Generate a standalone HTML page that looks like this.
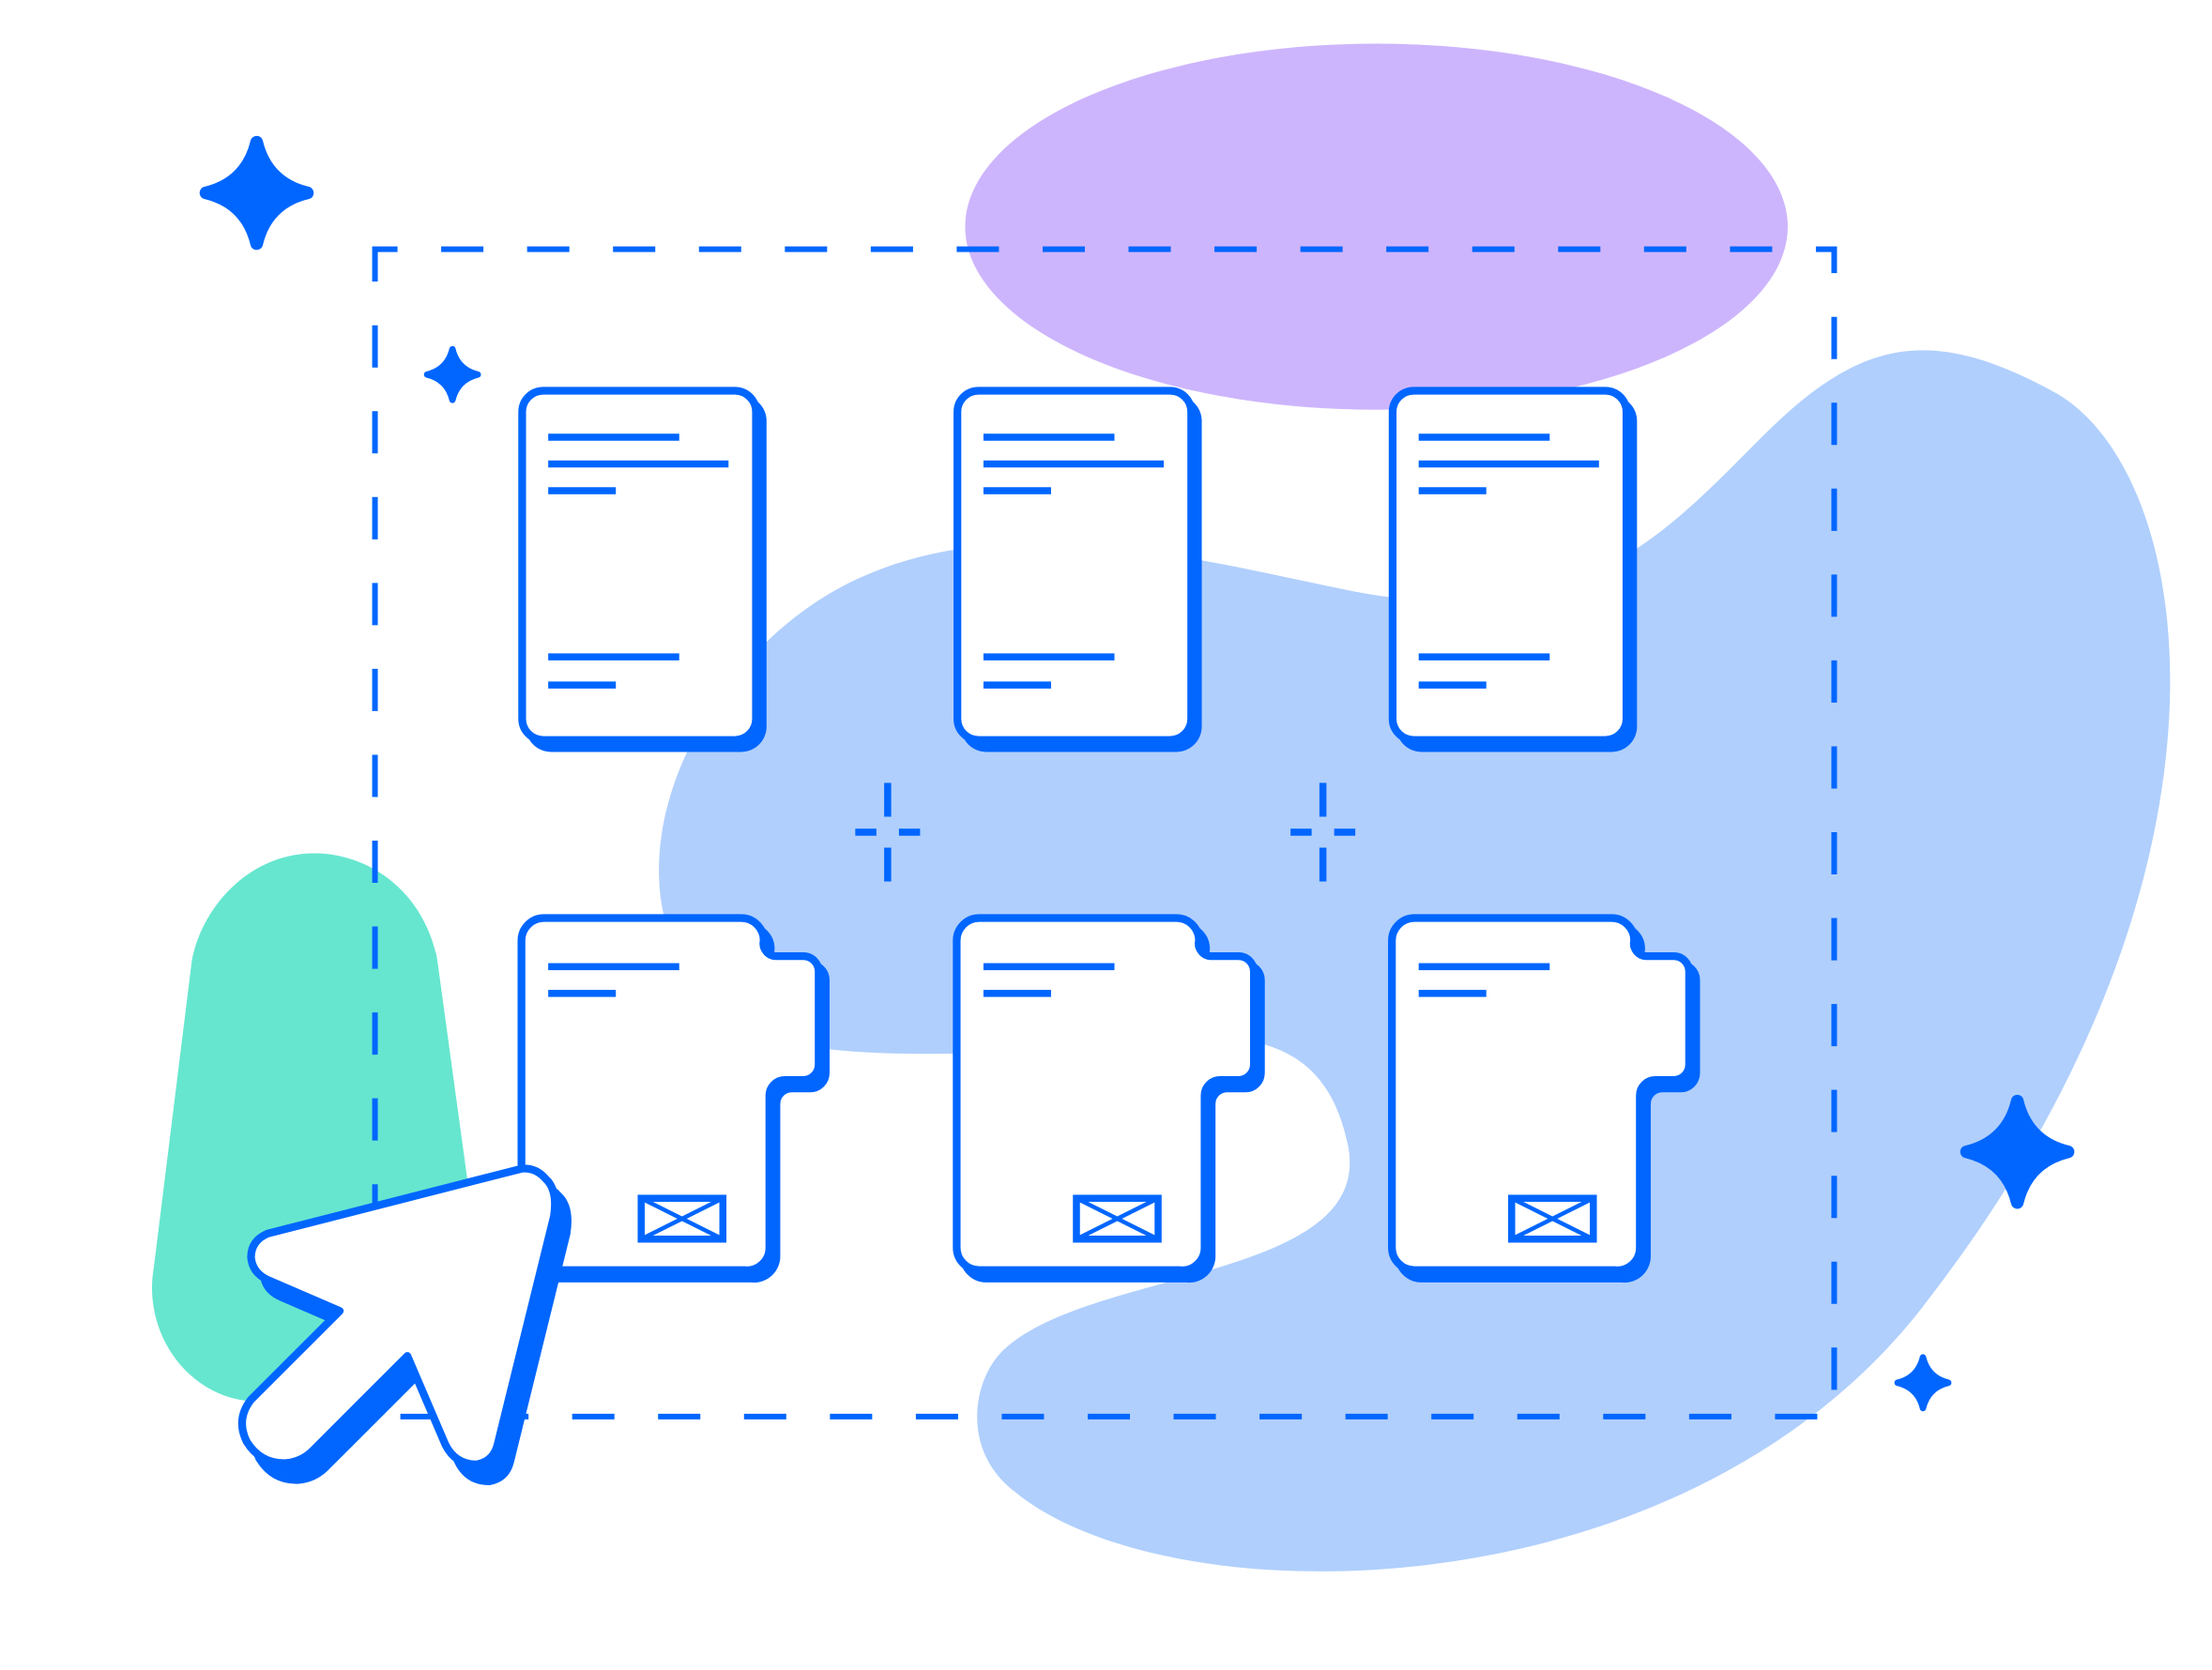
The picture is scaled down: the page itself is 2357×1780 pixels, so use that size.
<!DOCTYPE html>
<html><head><meta charset="utf-8"><style>html,body{margin:0;padding:0;background:#fff}svg{display:block}</style></head>
<body>
<svg width="2357" height="1780" viewBox="0 0 1568 1186" xmlns="http://www.w3.org/2000/svg">
<defs>
<g id="star"><path d="M0,-36 Q7,-7 36,0 Q7,7 0,36 Q-7,7 -36,0 Q-7,-7 0,-36Z" fill="#0066ff" stroke="#0066ff" stroke-width="9" stroke-linejoin="round"/></g>
<g id="doc">
<rect x="5" y="6" width="171" height="253" rx="18" fill="#0066ff"/>
<rect x="2.5" y="2.5" width="166" height="248" rx="15" fill="#fff" stroke="#0066ff" stroke-width="5.5"/>
<g fill="#0066ff"><rect x="21" y="33" width="93" height="5"/><rect x="21" y="52" width="128" height="5"/><rect x="21" y="71" width="48" height="5"/><rect x="21" y="189" width="93" height="5"/><rect x="21" y="209" width="48" height="5"/></g>
</g>
<path id="fp" d="M18,2 H158 A16,16 0 0 1 174,18 A9,9 0 0 0 183,29 H202 A11,11 0 0 1 213,40 V106 A11,11 0 0 1 202,117 H189 A11,11 0 0 0 178,128 V236 A16,16 0 0 1 160,252 H18 A16,16 0 0 1 2,236 V18 A16,16 0 0 1 18,2Z"/>
<g id="folder">
<use href="#fp" transform="translate(5,6)" fill="#0066ff" stroke="#0066ff" stroke-width="5.5"/>
<use href="#fp" fill="#fff" stroke="#0066ff" stroke-width="5.5"/>
<g fill="#0066ff"><rect x="21" y="34" width="93" height="5"/><rect x="21" y="53" width="48" height="5"/></g>
<g stroke="#0066ff" fill="none"><rect x="87" y="201" width="58" height="29" stroke-width="5"/><path d="M87,201 L145,230 M145,201 L87,230" stroke-width="3"/></g>
</g>
<g id="cross" fill="#0066ff"><rect x="-2.5" y="-35" width="5" height="24"/><rect x="-2.5" y="11" width="5" height="24"/><rect x="-23" y="-2.5" width="15" height="5"/><rect x="8" y="-2.5" width="15" height="5"/></g>
</defs>
<ellipse cx="976" cy="161" rx="292" ry="130" fill="#cdb5fd"/>
<path d="M470,650 C450,560 520,450 610,410 C720,360 860,400 960,420 C1120,450 1180,380 1250,310 C1320,240 1370,230 1460,280 C1560,340 1600,620 1370,920 C1200,1150 830,1150 720,1060 C680,1030 690,980 710,960 C770,900 980,910 955,810 C930,700 820,745 690,748 C560,751 480,740 470,650Z" fill="#b0cffd"/>
<path d="M222,606 C258,606 298,630 309,680 L335,870 L175,995 C130,990 100,945 108,900 L135,682 C142,645 175,606 222,606Z" fill="#66e6cf"/>
<rect x="265" y="177" width="1036" height="829" fill="none" stroke="#0066ff" stroke-width="4" stroke-dasharray="30 31" stroke-dashoffset="14"/>
<use href="#star" transform="translate(181,137)"/>
<use href="#star" transform="translate(1431,818)"/>
<use href="#star" transform="translate(320,266) scale(0.5)"/>
<use href="#star" transform="translate(1364,982) scale(0.5)"/>
<use href="#doc" transform="translate(367,275)"/>
<use href="#doc" transform="translate(676,275)"/>
<use href="#doc" transform="translate(985,275)"/>
<use href="#folder" transform="translate(367,650)"/>
<use href="#folder" transform="translate(676,650)"/>
<use href="#folder" transform="translate(985,650)"/>
<use href="#cross" transform="translate(629,591)"/>
<use href="#cross" transform="translate(938,591)"/>
<defs>
<path id="cur" d="M369,830 L189,876 Q177,881 177,893 Q178,904 189,909 L240,931 L177,994 Q166,1008 174,1024 Q184,1040 202,1039 Q213,1038 221,1030 L288,963 L315,1026 Q322,1040 337,1040 Q349,1038 352,1026 L392,864 Q395,845 386,837 Q379,829 369,830Z"/>
</defs>
<use href="#cur" transform="translate(9,12)" fill="#0066ff" stroke="#0066ff" stroke-width="5.5" stroke-linejoin="round"/>
<use href="#cur" fill="#fff" stroke="#0066ff" stroke-width="5.5" stroke-linejoin="round"/>
</svg>
</body></html>
